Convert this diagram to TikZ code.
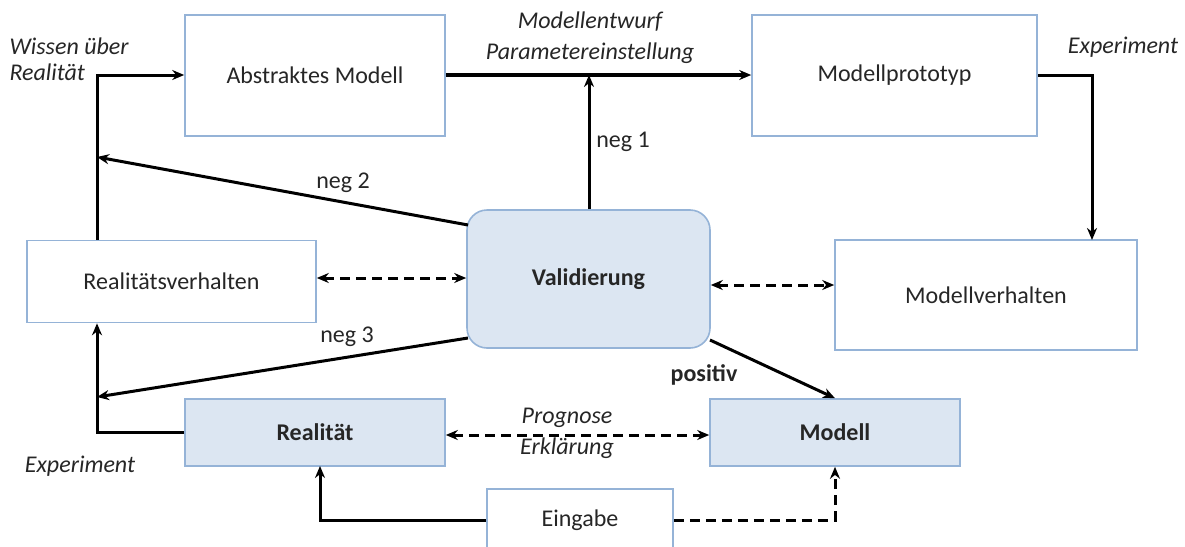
\documentclass[tikz,border=0pt]{standalone}
\usepackage{fontspec}
\setmainfont{Carlito}
\usetikzlibrary{arrows.meta}
\definecolor{boxline}{HTML}{95B3D7}
\definecolor{boxfill}{HTML}{DCE6F2}
\definecolor{txt}{HTML}{262626}
\newcommand{\bigfont}{\fontsize{24}{28}\selectfont}
\tikzset{
  tip/.tip={Stealth[length=12pt,width=10pt]},
  blk/.style={draw=boxline, line width=1.6pt, fill=white, inner sep=0pt, text=txt,
    font=\bigfont},
  hlblk/.style={blk, fill=boxfill, font=\bigfont\bfseries},
  flow/.style={line width=3pt, -tip},
  both/.style={line width=3pt, dash pattern=on 10pt off 6pt, tip-tip},
  dflow/.style={line width=3pt, dash pattern=on 10pt off 6pt, -tip},
  lbl/.style={text=txt, font=\bigfont\itshape, align=left},
  neg/.style={text=txt, font=\bigfont},
}
\begin{document}
\begin{tikzpicture}[x=1pt, y=-1pt]
\useasboundingbox (0,0) rectangle (1185,546);

% boxes
\node[blk, minimum width=260pt, minimum height=121pt] (abs) at (315,75.5) {Abstraktes Modell};
\node[blk, minimum width=285pt, minimum height=121pt] (proto) at (894.5,75.5) {Modellprototyp};
\node[blk, minimum width=302pt, minimum height=110pt] (mverh) at (986,295) {Modellverhalten};
\node[blk, minimum width=289pt, minimum height=82pt] (rverh) at (171.5,281.5) {Realitätsverhalten};
\node[hlblk, rounded corners=20pt, minimum width=243pt, minimum height=138pt] (val) at (588.5,279) {Validierung};
\node[hlblk, minimum width=260pt, minimum height=67pt] (real) at (315,432.5) {Realität};
\node[hlblk, minimum width=250pt, minimum height=67pt] (mod) at (835,432.5) {Modell};
\node[blk, minimum width=186pt, minimum height=62pt] (ein) at (580,520) {};
\node[text=txt, font=\bigfont] (eintxt) at (580,520) {Eingabe};

% helper points on the connector routes
\coordinate (top) at (589,75);
\coordinate (left) at (97,75);
\coordinate (n2) at (97,157);
\coordinate (n3) at (97,397);

% top row
\draw[line width=4pt, -tip] (abs.east |- top) -- (proto.west |- top);
\draw[flow] (proto.east) -- (1092,75.5) -- (1092,240);
\draw[flow] (rverh.north -| left) -- (left) -- (abs.west |- left);

% feedback from validation
\draw[flow] (val.north -| top) -- (top);
\draw[flow] (468,225) -- (n2);
\draw[flow] (468,338) -- (n3);
\draw[flow] (710,340) -- (mod.north);

% comparison links
\draw[both] (rverh.east |- 0,278) -- (val.west |- 0,278);
\draw[both] (val.east |- 0,285) -- (mverh.west |- 0,285);
\draw[both] (real.east |- 0,435) -- (mod.west |- 0,435);

% bottom row
\draw[flow] (real.west) -- (97,432.5) -- (rverh.south -| left);
\draw[flow] (ein.west) -- (320,520) -- (320,466);
\draw[dflow] (ein.east) -- (835,520) -- (mod.south);

% labels
\node[lbl, anchor=west] (wis) at (6,59) {Wissen über\\[-2pt]Realität};
\node[lbl] (entw) at (590,22) {Modellentwurf};
\node[lbl] (param) at (590,53) {Parametereinstellung};
\node[lbl] (exp1) at (1123,47) {Experiment};
\node[lbl] (exp2) at (80,466) {Experiment};
\node[lbl] (prog) at (567,418) {Prognose};
\node[lbl] (erkl) at (567,448) {Erklärung};
\node[neg] (neg1) at (623,142) {neg 1};
\node[neg] (neg2) at (343,183) {neg 2};
\node[neg] (neg3) at (347,337) {neg 3};
\node[neg, font=\bigfont\bfseries] (pos) at (704,375) {positiv};
\end{tikzpicture}
\end{document}
